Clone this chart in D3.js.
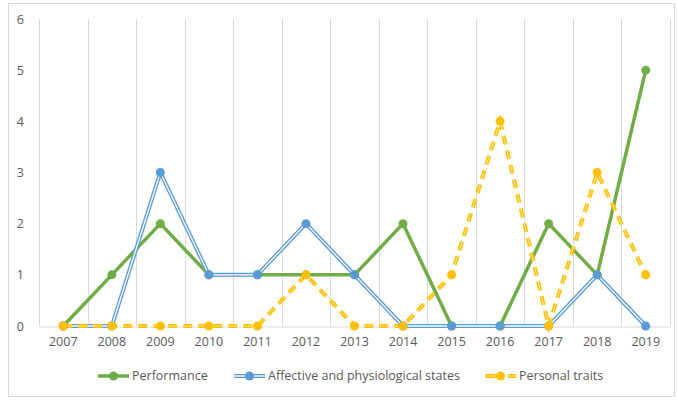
<!DOCTYPE html>
<html>
<head>
<meta charset="utf-8">
<script src="https://cdn.jsdelivr.net/npm/d3@7"></script>
<style>
  html, body { margin: 0; padding: 0; background: #fff; }
  svg { display: block; font-family: "Open Sans", "Noto Sans", "Liberation Sans", sans-serif; }
</style>
</head>
<body>
<svg id="chart" width="678" height="400"></svg>
<script>
// Publication counts per year for three research themes
const years = ["2007","2008","2009","2010","2011","2012","2013","2014","2015","2016","2017","2018","2019"];
const performance = [0,1,2,1,1,1,1,2,0,0,2,1,5];
const affective   = [0,0,3,1,1,2,1,0,0,0,0,1,0];
const traits      = [0,0,0,0,0,1,0,0,1,4,0,3,1];
const yTicks = [0,1,2,3,4,5,6];
const seriesNames = ["Performance","Affective and physiological states","Personal traits"];

const svg = d3.select("#chart");
const fontSize = 12.5;

// outer frame
svg.append("rect").attr("x", 8.5).attr("y", 3.5).attr("width", 666).attr("height", 393)
  .attr("fill", "#fff").attr("stroke", "#d9d9d9").attr("stroke-width", 1);

const plot = { left: 39, right: 670, top: 19, bottom: 326 };

const x = d3.scaleBand().domain(years).range([plot.left, plot.right]).paddingInner(0).paddingOuter(0);
const cx = d => x(d) + x.bandwidth() / 2;
const y = d3.scaleLinear().domain([0, 6]).range([plot.bottom, plot.top]);

// vertical gridlines at category boundaries
const bounds = years.map(d => x(d)).concat([x(years[years.length - 1]) + x.bandwidth()]);
svg.append("g").selectAll("line").data(bounds).join("line")
  .attr("x1", d => Math.round(d) + 0.5).attr("x2", d => Math.round(d) + 0.5)
  .attr("y1", y(6)).attr("y2", y(0))
  .attr("stroke", "#d9d9d9").attr("stroke-width", 1);

// category axis
const xAxis = svg.append("g").attr("transform", `translate(0,${y(0) + 0.5})`)
  .call(d3.axisBottom(x).tickSize(0).tickPadding(11));
xAxis.select(".domain").attr("stroke", "#d9d9d9");
xAxis.selectAll("text").attr("fill", "#595959").attr("font-size", fontSize).attr("font-family", "Open Sans, sans-serif");

// value axis labels
const yAxis = svg.append("g").attr("transform", `translate(${plot.left},0)`)
  .call(d3.axisLeft(y).tickValues(yTicks).tickFormat(d3.format("d")).tickSize(0).tickPadding(15));
yAxis.select(".domain").remove();
yAxis.selectAll("text").attr("fill", "#595959").attr("font-size", fontSize).attr("font-family", "Open Sans, sans-serif");

const line = d3.line().x((d, i) => cx(years[i])).y(d => y(d));

const green = "#70AD47", blue = "#5B9BD5", gold = "#FFC000";

// Performance: solid green
svg.append("path").datum(performance).attr("d", line)
  .attr("fill", "none").attr("stroke", green).attr("stroke-width", 3.5).attr("stroke-linejoin", "round");

// Affective: blue double line
svg.append("path").datum(affective).attr("d", line)
  .attr("fill", "none").attr("stroke", blue).attr("stroke-width", 4).attr("stroke-linejoin", "miter");
svg.append("path").datum(affective).attr("d", line)
  .attr("fill", "none").attr("stroke", "#fff").attr("stroke-width", 1.3).attr("stroke-linejoin", "miter");

// Personal traits: gold dashed double line
svg.append("path").datum(traits).attr("d", line)
  .attr("fill", "none").attr("stroke", gold).attr("stroke-width", 4).attr("stroke-dasharray", "9,6");
svg.append("path").datum(traits).attr("d", line)
  .attr("fill", "none").attr("stroke", "#ffe89a").attr("stroke-width", 1).attr("stroke-dasharray", "9,6");

// markers
function markers(data, color) {
  svg.append("g").selectAll("circle").data(data).join("circle")
    .attr("cx", (d, i) => cx(years[i])).attr("cy", d => y(d)).attr("r", 4.5)
    .attr("fill", color);
}
markers(performance, green);
markers(affective, blue);
markers(traits, gold);

// legend
const legend = svg.append("g").attr("font-size", fontSize).attr("fill", "#595959");
const ly = 376;
const items = [
  { name: seriesNames[0], x0: 98, color: green },
  { name: seriesNames[1], x0: 234, color: blue },
  { name: seriesNames[2], x0: 485, color: gold }
];
items.forEach((it, k) => {
  const g = legend.append("g");
  const x1 = it.x0 + 31;
  if (k === 0) {
    g.append("line").attr("x1", it.x0).attr("x2", x1).attr("y1", ly).attr("y2", ly)
      .attr("stroke", it.color).attr("stroke-width", 3.5);
  } else if (k === 1) {
    g.append("line").attr("x1", it.x0).attr("x2", x1).attr("y1", ly).attr("y2", ly)
      .attr("stroke", it.color).attr("stroke-width", 4);
    g.append("line").attr("x1", it.x0).attr("x2", x1).attr("y1", ly).attr("y2", ly)
      .attr("stroke", "#fff").attr("stroke-width", 1.3);
  } else {
    g.append("line").attr("x1", it.x0).attr("x2", x1).attr("y1", ly).attr("y2", ly)
      .attr("stroke", it.color).attr("stroke-width", 4).attr("stroke-dasharray", "19,4,8");
    g.append("line").attr("x1", it.x0).attr("x2", x1).attr("y1", ly).attr("y2", ly)
      .attr("stroke", "#ffe89a").attr("stroke-width", 1).attr("stroke-dasharray", "19,4,8");
  }
  g.append("circle").attr("cx", (it.x0 + x1) / 2).attr("cy", ly).attr("r", 4.5).attr("fill", it.color);
  g.append("text").attr("x", x1 + 3).attr("y", ly).attr("dy", "0.35em").attr("fill", "#595959").text(it.name);
});
</script>
</body>
</html>
